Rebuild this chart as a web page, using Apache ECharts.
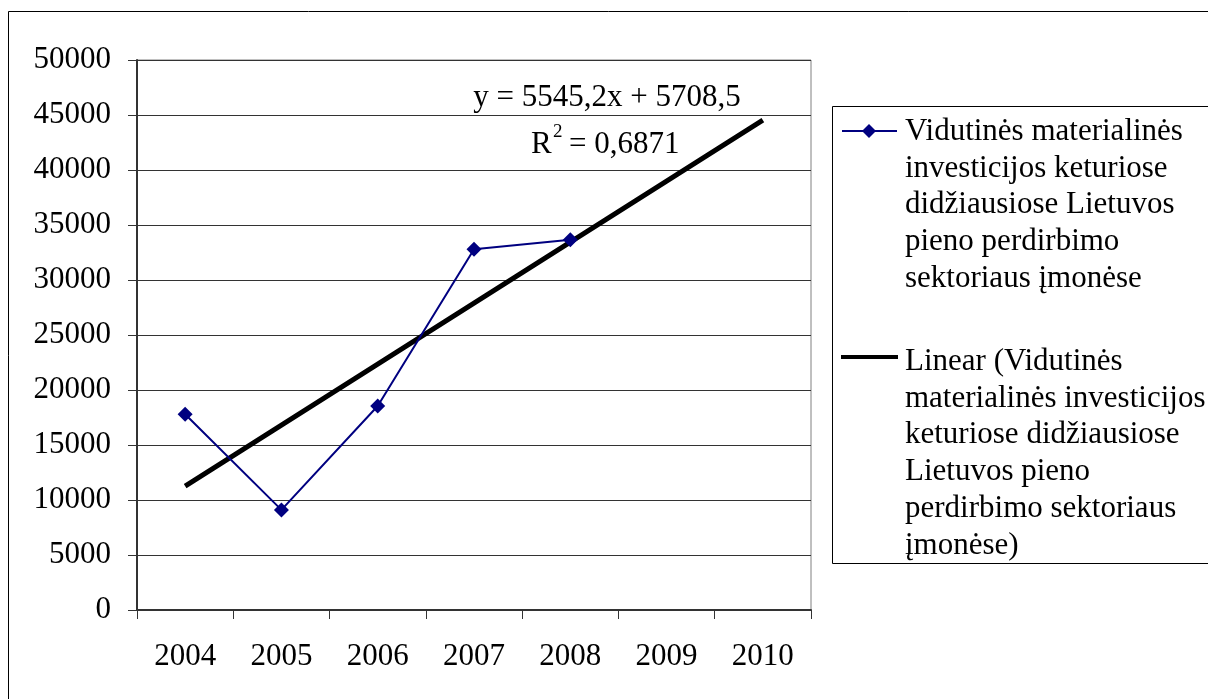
<!DOCTYPE html>
<html>
<head>
<meta charset="utf-8">
<script src="https://cdn.jsdelivr.net/npm/echarts@6/dist/echarts.min.js"></script>
<style>
html,body{margin:0;padding:0;background:#fff;}
#chart{width:1208px;height:699px;}
</style>
</head>
<body>
<div id="chart"></div>
<script>
const years = ['2004','2005','2006','2007','2008','2009','2010'];
const investValues = [17800, 9100, 18550, 32800, 33650, null, null];
// Linear trend y = 5545,2x + 5708,5 evaluated at each category (read from equation)
const trendValues = [11254, 16799, 22344, 27889, 33434, 38980, 44525];
const yTicks = [0, 50000, 5000]; // min, max, interval
const seriesName1 = 'Vidutinės materialinės investicijos keturiose didžiausiose Lietuvos pieno perdirbimo sektoriaus įmonėse';
const seriesName2 = 'Linear (Vidutinės materialinės investicijos keturiose didžiausiose Lietuvos pieno perdirbimo sektoriaus įmonėse)';
const legendLines1 = ['Vidutinės materialinės','investicijos keturiose','didžiausiose Lietuvos','pieno perdirbimo','sektoriaus įmonėse'];
const legendLines2 = ['Linear (Vidutinės','materialinės investicijos','keturiose didžiausiose','Lietuvos pieno','perdirbimo sektoriaus','įmonėse)'];
const eqText = 'y = 5545,2x + 5708,5';
const r2Value = '= 0,6871';

const FONT = '"Liberation Serif", "Times New Roman", serif';
const FS = 31;
const chart = echarts.init(document.getElementById('chart'));
const option = {
  animation: false,
  backgroundColor: '#fff',
  grid: {left: 137, top: 60, right: 397, bottom: 89, show: true, borderColor: '#808080', borderWidth: 1},
  xAxis: {
    type: 'category', data: years, boundaryGap: true,
    axisLine: {lineStyle: {color: '#333', width: 2}},
    axisTick: {show: true, length: 9, alignWithLabel: false, lineStyle: {color: '#333', width: 1}},
    axisLabel: {fontFamily: FONT, fontSize: FS, color: '#000', margin: 31},
    splitLine: {show: false}
  },
  yAxis: {
    type: 'value', min: yTicks[0], max: yTicks[1], interval: yTicks[2],
    axisLine: {show: true, lineStyle: {color: '#333', width: 2}},
    axisTick: {show: true, length: 9, lineStyle: {color: '#333', width: 1}},
    axisLabel: {fontFamily: FONT, fontSize: FS, color: '#000', margin: 26, formatter: function (v) { return String(v); }},
    splitLine: {show: true, lineStyle: {color: '#333', width: 1}}
  },
  series: [
    {
      name: seriesName1, type: 'line', data: investValues,
      symbol: 'diamond', symbolSize: 15,
      itemStyle: {color: '#000080'},
      lineStyle: {color: '#000080', width: 2},
      z: 3
    },
    {
      name: seriesName2, type: 'line', data: trendValues,
      symbol: 'none',
      lineStyle: {color: '#000', width: 5},
      z: 2
    }
  ],
  graphic: [
    {type: 'rect', shape: {x: 8.5, y: 11.5, width: 1220, height: 720}, style: {fill: 'none', stroke: '#000', lineWidth: 1}, silent: true, z: -10},
    {type: 'rect', shape: {x: 832.5, y: 106.5, width: 400, height: 457}, style: {fill: '#fff', stroke: '#000', lineWidth: 1}, silent: true},
    {type: 'line', shape: {x1: 842, y1: 131, x2: 897, y2: 131}, style: {stroke: '#000080', lineWidth: 2}},
    {type: 'polygon', shape: {points: [[869, 124], [876, 131], [869, 138], [862, 131]]}, style: {fill: '#000080'}},
    {type: 'line', shape: {x1: 841, y1: 357, x2: 898, y2: 357}, style: {stroke: '#000', lineWidth: 4}},
    {type: 'text', x: 905, y: 113.6, style: {text: legendLines1.join('\n'), font: FS + 'px ' + FONT, fill: '#000', lineHeight: 36.7, verticalAlign: 'top', align: 'left'}},
    {type: 'text', x: 905, y: 343.6, style: {text: legendLines2.join('\n'), font: FS + 'px ' + FONT, fill: '#000', lineHeight: 36.7, verticalAlign: 'top', align: 'left'}},
    {type: 'text', x: 607, y: 98, style: {text: eqText, font: FS + 'px ' + FONT, fill: '#000', align: 'center', verticalAlign: 'middle'}},
    {type: 'text', x: 531, y: 145, style: {text: 'R', font: FS + 'px ' + FONT, fill: '#000', align: 'left', verticalAlign: 'middle'}},
    {type: 'text', x: 553, y: 132, style: {text: '2', font: '19px ' + FONT, fill: '#000', align: 'left', verticalAlign: 'middle'}},
    {type: 'text', x: 569, y: 145, style: {text: r2Value, font: FS + 'px ' + FONT, fill: '#000', align: 'left', verticalAlign: 'middle'}}
  ]
};
chart.setOption(option);
</script>
</body>
</html>
